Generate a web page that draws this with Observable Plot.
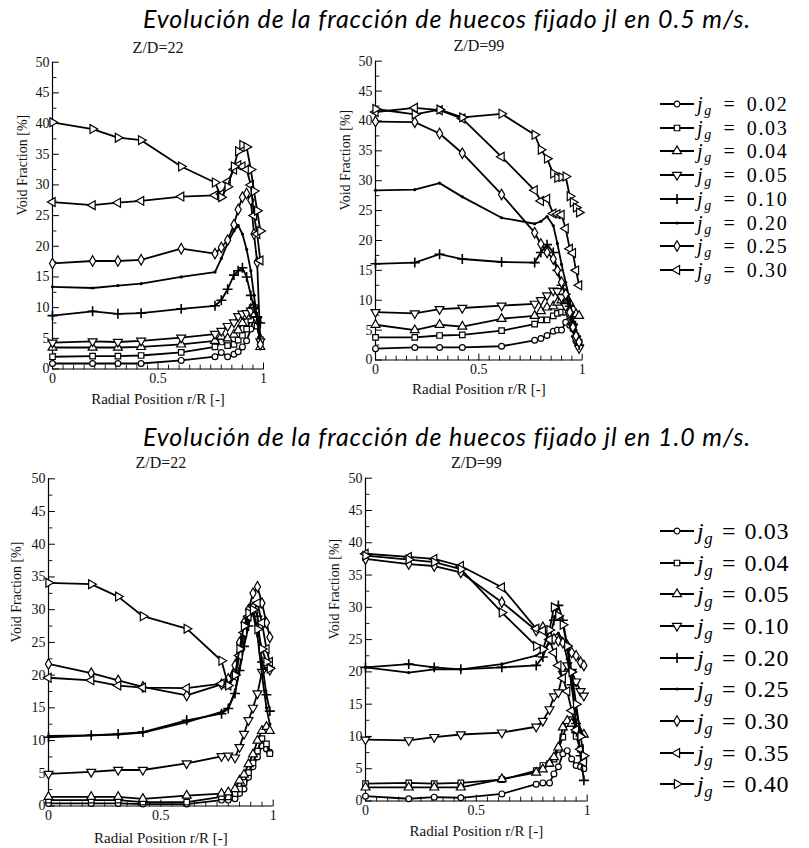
<!DOCTYPE html>
<html><head><meta charset="utf-8">
<script src="https://cdn.jsdelivr.net/npm/d3@7"></script>
<script src="https://cdn.jsdelivr.net/npm/@observablehq/plot@0.6"></script>
<style>
body{margin:0;background:#fff;}
#root{position:relative;width:809px;height:848px;overflow:hidden;background:#fff;}
.title{position:absolute;left:143px;text-align:left;font-family:Lato,"Open Sans",sans-serif;font-style:italic;font-size:25px;letter-spacing:0.9px;line-height:1.2;color:#000;white-space:nowrap;}
.panel{position:absolute;}
.row{position:absolute;left:0;display:flex;align-items:center;white-space:nowrap;font-family:"Liberation Serif","Times New Roman",Times,"DejaVu Serif",serif;line-height:1;color:#000;}
.row svg{margin-right:2px;flex:none;}
.row sub{font-size:0.7em;vertical-align:-0.3em;font-style:italic;line-height:0;}
.small{font-size:20px;height:20px;letter-spacing:1.6px;word-spacing:4px;}
.big{font-size:24px;height:24px;letter-spacing:0.6px;word-spacing:2px;}
</style></head><body><div id="root"></div>
<script>
// ---------- DATA ----------
const titleTop = "Evolución de la fracción de huecos fijado jl en 0.5 m/s.";
const titleBottom = "Evolución de la fracción de huecos fijado jl en 1.0 m/s.";
const xLabel = "Radial Position r/R [-]";
const yLabel = "Void Fraction [%]";
const yMajorTicks = [0, 5, 10, 15, 20, 25, 30, 35, 40, 45, 50];
const yMinorTicks = [2.5, 7.5, 12.5, 17.5, 22.5, 27.5, 32.5, 37.5, 42.5, 47.5];
const xMajorTicks = [0, 0.5, 1];
const xMinorTicks = [0.05,0.1,0.15,0.2,0.25,0.3,0.35,0.4,0.45,0.55,0.6,0.65,0.7,0.75,0.8,0.85,0.9,0.95];
const legendTop = ["0.02", "0.03", "0.04", "0.05", "0.10", "0.20", "0.25", "0.30"];
const legendBottom = ["0.03", "0.04", "0.05", "0.10", "0.20", "0.25", "0.30", "0.35", "0.40"];
const markerKinds = ["circle", "square", "triUp", "triDown", "plus", "dot", "diamond", "triLeft", "triRight"];

// jl = 0.5 m/s, Z/D = 22
const xTL = [0, 0.19, 0.31, 0.42, 0.61, 0.77, 0.80, 0.83, 0.86, 0.88, 0.90, 0.92, 0.94, 0.955, 0.97, 0.985];
const tlCircle  = [0.9, 0.9, 0.9, 0.9, 1.4, 2.0, 2.7, 2.0, 2.4, 2.8, 3.6, 4.6, 6.5, 8.5, 7.0, 4.5];
const tlSquare  = [2.0, 2.1, 2.1, 2.2, 2.7, 3.6, 4.4, 3.8, 4.0, 4.7, 5.5, 6.5, 8.0, 8.8, 7.0, 4.8];
const tlTriUp   = [3.5, 3.5, 3.5, 3.6, 4.0, 4.6, 5.3, 5.0, 5.6, 6.3, 7.5, 8.6, 9.8, 10.2, 8.0, 3.6];
const tlTriDown = [4.3, 4.5, 4.4, 4.6, 5.1, 5.7, 6.2, 7.0, 7.6, 8.6, 9.0, 9.1, 9.5, 10.0, 8.0, 4.5];
const tlPlus    = [8.7, 9.4, 9.0, 9.1, 9.8, 10.3, 11.2, 13.0, 15.3, 16.0, 16.5, 15.0, 12.0, 10.0, 8.5, 7.5];
const tlDot     = [13.4, 13.2, 13.6, 13.9, 15.0, 15.8, 18.0, 20.5, 22.5, 23.4, 22.0, 19.5, 16.0, 12.0, 8.0, 5.5];
const tlDiamond = [17.2, 17.6, 17.6, 17.8, 19.6, 18.8, 19.8, 21.0, 23.5, 26.0, 28.0, 28.6, 27.5, 22.0, 17.4, 4.0];
const tlTriLeft = [27.2, 26.7, 27.1, 27.4, 28.1, 28.3, 28.5, 30.5, 32.5, 33.2, 33.0, 32.5, 30.0, 25.0, 22.0, 17.7];
const tlTriRight= [40.2, 39.1, 37.7, 37.3, 33.0, 30.4, 28.0, 29.7, 33.0, 35.5, 36.5, 36.2, 32.5, 29.0, 25.8, 22.5];

// jl = 0.5 m/s, Z/D = 99
const xTR = [0, 0.19, 0.31, 0.42, 0.61, 0.77, 0.80, 0.83, 0.86, 0.88, 0.90, 0.92, 0.94, 0.955, 0.97, 0.985];
const trCircle  = [1.9, 2.1, 2.1, 2.1, 2.3, 3.3, 3.6, 4.1, 4.8, 5.0, 5.0, 6.3, 5.8, 5.2, 3.2, 2.2];
const trSquare  = [3.8, 3.8, 4.1, 4.2, 4.9, 6.0, 6.7, 6.7, 7.4, 7.8, 8.0, 8.0, 7.4, 6.0, 4.0, 3.0];
const trTriUp   = [5.9, 5.0, 5.9, 5.6, 6.9, 7.4, 8.2, 8.8, 9.0, 9.6, 10.0, 10.5, 9.5, 8.5, 7.7, 7.4];
const trTriDown = [8.0, 7.8, 8.5, 8.7, 9.1, 9.4, 10.0, 10.8, 11.6, 11.5, 10.5, 9.0, 7.5, 5.5, 3.5, 2.0];
const trPlus    = [16.1, 16.3, 17.7, 16.9, 16.4, 16.3, 18.0, 19.3, 18.0, 15.0, 12.5, 11.0, 9.0, 6.0, 4.0, 2.5];
const trDot     = [28.4, 28.5, 29.6, 27.3, 23.8, 22.8, 23.2, 24.0, 22.5, 19.5, 16.0, 13.0, 10.0, 7.0, 5.0, 3.5];
const trDiamond = [39.9, 39.8, 37.9, 34.6, 27.7, 21.3, 19.4, 18.0, 16.9, 15.0, 13.0, 11.0, 8.0, 5.5, 4.0, 3.0];
const trTriLeft = [41.5, 42.2, 41.8, 40.4, 34.0, 28.4, 26.6, 27.0, 24.5, 24.4, 24.3, 22.0, 18.6, 17.9, 15.0, 12.5];
const trTriRight= [42.0, 41.1, 41.9, 40.6, 41.2, 37.7, 35.2, 33.7, 31.2, 30.5, 30.6, 30.7, 27.4, 26.4, 25.5, 24.7];

// jl = 1.0 m/s, Z/D = 22
const xBL = [0, 0.19, 0.31, 0.42, 0.615, 0.77, 0.80, 0.83, 0.85, 0.87, 0.89, 0.91, 0.93, 0.95, 0.97, 0.985];
const blCircle  = [0.4, 0.4, 0.4, 0.3, 0.3, 0.9, 0.9, 1.1, 1.9, 2.6, 4.4, 6.0, 7.5, 9.2, 8.7, 8.2];
const blSquare  = [0.9, 0.9, 0.9, 0.6, 0.6, 1.4, 1.4, 1.9, 2.6, 3.6, 5.1, 6.6, 8.4, 10.3, 9.5, 8.0];
const blTriUp   = [1.4, 1.4, 1.4, 1.1, 1.6, 1.9, 2.1, 2.6, 3.9, 4.8, 6.4, 7.9, 10.0, 11.5, 12.1, 11.5];
const blTriDown = [4.9, 5.2, 5.5, 5.5, 6.5, 7.6, 7.7, 7.4, 9.0, 11.0, 13.1, 15.0, 17.2, 20.5, 21.5, 20.8];
const blPlus    = [10.5, 10.8, 11.0, 11.3, 13.1, 14.1, 14.9, 17.2, 20.7, 24.4, 27.5, 30.5, 29.0, 22.0, 17.0, 14.5];
const blDot     = [10.7, 10.8, 10.9, 11.2, 12.8, 14.4, 15.0, 17.5, 21.0, 25.0, 28.5, 29.5, 26.0, 20.0, 15.0, 12.5];
const blDiamond = [21.7, 20.3, 19.2, 18.2, 16.9, 18.6, 19.4, 21.5, 25.0, 28.0, 30.0, 32.5, 33.5, 31.0, 28.0, 25.8];
const blTriLeft = [19.6, 19.2, 18.4, 18.1, 18.0, 18.7, 18.4, 19.8, 23.0, 26.5, 29.0, 30.5, 31.0, 28.0, 24.0, 22.0];
const blTriRight= [34.1, 33.9, 32.0, 29.0, 27.1, 22.2, 18.4, 20.0, 24.0, 27.5, 29.5, 30.0, 27.0, 24.0, 22.0, 21.0];

// jl = 1.0 m/s, Z/D = 99
const xBR = [0, 0.195, 0.31, 0.43, 0.615, 0.77, 0.80, 0.83, 0.85, 0.87, 0.89, 0.91, 0.93, 0.95, 0.97, 0.985];
const brCircle  = [0.75, 0.35, 0.6, 0.5, 1.1, 2.6, 2.8, 2.8, 4.2, 5.3, 7.3, 7.8, 6.5, 5.5, 5.3, 5.0];
const brSquare  = [2.7, 2.8, 2.7, 2.8, 3.3, 4.7, 5.5, 5.8, 6.5, 8.0, 9.9, 12.0, 12.6, 10.0, 8.0, 6.5];
const brTriUp   = [2.1, 2.1, 2.1, 2.1, 3.4, 4.4, 4.9, 5.8, 6.8, 8.3, 11.4, 12.4, 12.0, 11.0, 10.5, 10.3];
const brTriDown = [9.5, 9.4, 9.9, 10.3, 10.6, 11.5, 12.4, 14.2, 16.2, 16.8, 19.7, 21.0, 20.0, 18.5, 17.0, 16.3];
const brPlus    = [20.7, 21.2, 20.7, 20.4, 20.7, 21.0, 22.3, 25.0, 28.0, 30.3, 28.0, 24.0, 18.0, 12.0, 7.0, 3.2];
const brDot     = [20.7, 19.9, 20.4, 20.4, 21.2, 22.5, 23.3, 24.5, 25.5, 26.0, 25.0, 22.0, 18.0, 14.0, 11.0, 10.0];
const brDiamond = [37.5, 36.7, 36.4, 35.4, 30.8, 26.4, 26.9, 25.5, 25.1, 24.8, 24.5, 24.1, 23.0, 22.5, 21.5, 21.0];
const brTriLeft = [38.3, 37.8, 37.5, 36.4, 33.1, 26.7, 26.4, 25.0, 23.0, 21.0, 19.0, 17.0, 14.0, 11.0, 8.0, 6.0];
const brTriRight= [38.0, 37.4, 37.0, 35.9, 29.2, 24.0, 23.5, 26.5, 30.0, 28.7, 27.3, 24.0, 20.0, 15.0, 10.0, 7.0];

// ---------- SYMBOLS ----------
function tri(angleDeg) {
  const a0 = angleDeg * Math.PI / 180;
  return {draw(ctx, size) {
    const r = 2 * Math.sqrt(size / (3 * Math.sqrt(3)));
    for (let k = 0; k < 3; k++) {
      const a = a0 + k * 2 * Math.PI / 3;
      const px = r * Math.sin(a), py = -r * Math.cos(a);
      if (k) ctx.lineTo(px, py); else ctx.moveTo(px, py);
    }
    ctx.closePath();
  }};
}
const markerStyle = {
  circle:   {symbol: d3.symbolCircle, r: 2.9, fill: "white", stroke: "black", strokeWidth: 1.2},
  square:   {symbol: d3.symbolSquare, r: 3.1, fill: "white", stroke: "black", strokeWidth: 1.2},
  triUp:    {symbol: tri(0), r: 3.3, fill: "white", stroke: "black", strokeWidth: 1.2},
  triDown:  {symbol: tri(180), r: 3.3, fill: "white", stroke: "black", strokeWidth: 1.2},
  plus:     {symbol: d3.symbolPlus, r: 3.3, fill: "none", stroke: "black", strokeWidth: 1.6},
  dot:      {symbol: d3.symbolCircle, r: 1.6, fill: "black", stroke: "none", strokeWidth: 0},
  diamond:  {symbol: d3.symbolDiamond, r: 3.2, fill: "white", stroke: "black", strokeWidth: 1.2},
  triLeft:  {symbol: tri(-90), r: 3.3, fill: "white", stroke: "black", strokeWidth: 1.2},
  triRight: {symbol: tri(90), r: 3.3, fill: "white", stroke: "black", strokeWidth: 1.2}
};

// ---------- PANELS ----------
const panels = [
  {title: "Z/D=22", x: xTL, series: [tlCircle, tlSquare, tlTriUp, tlTriDown, tlPlus, tlDot, tlDiamond, tlTriLeft, tlTriRight],
   left: 0, top: 40, width: 280, height: 380, mL: 52, mR: 17, mT: 21.7, mB: 51.5, tDy: -9.7, xDy: 34.5, yOff: 29.5},
  {title: "Z/D=99", x: xTR, series: [trCircle, trSquare, trTriUp, trTriDown, trPlus, trDot, trDiamond, trTriLeft, trTriRight],
   left: 330, top: 40, width: 280, height: 380, mL: 45, mR: 28.3, mT: 20.7, mB: 60.5, tDy: -10.7, xDy: 33.5, yOff: 29.7},
  {title: "Z/D=22", x: xBL, series: [blCircle, blSquare, blTriUp, blTriDown, blPlus, blDot, blDiamond, blTriLeft, blTriRight],
   left: 0, top: 460, width: 290, height: 388, mL: 48, mR: 17.3, mT: 18.3, mB: 42.5, tDy: -10.8, xDy: 36.5, yOff: 32},
  {title: "Z/D=99", x: xBR, series: [brCircle, brSquare, brTriUp, brTriDown, brPlus, brDot, brDiamond, brTriLeft, brTriRight],
   left: 330, top: 460, width: 280, height: 388, mL: 35, mR: 23.3, mT: 17.7, mB: 47.5, tDy: -10.2, xDy: 34.5, yOff: 31}
];

const tickShapeUp = {draw(ctx, l) { ctx.moveTo(0, 0); ctx.lineTo(0, -l); }};
const serifStack = "'Liberation Serif', 'Times New Roman', Times, 'DejaVu Serif', serif";

const root = document.getElementById("root");

function addTitle(text, top) {
  const d = document.createElement("div");
  d.className = "title";
  d.style.top = top + "px";
  d.textContent = text;
  root.appendChild(d);
}
addTitle(titleTop, 3);
addTitle(titleBottom, 421);

for (const p of panels) {
  const marks = [
    Plot.ruleY([0], {stroke: "black", strokeWidth: 1.2}),
    Plot.ruleX([0], {stroke: "black", strokeWidth: 1.2}),
    Plot.vector(yMajorTicks, {x: () => 0, y: d => d, length: 6, rotate: 90, anchor: "start", shape: tickShapeUp, stroke: "black", strokeWidth: 1}),
    Plot.vector(yMinorTicks, {x: () => 0, y: d => d, length: 3.5, rotate: 90, anchor: "start", shape: tickShapeUp, stroke: "black", strokeWidth: 0.9}),
    Plot.vector(xMajorTicks, {x: d => d, y: () => 0, length: 6, rotate: 0, anchor: "start", shape: tickShapeUp, stroke: "black", strokeWidth: 1}),
    Plot.vector(xMinorTicks, {x: d => d, y: () => 0, length: 4, rotate: 0, anchor: "start", shape: tickShapeUp, stroke: "black", strokeWidth: 0.9}),
    Plot.axisY(yMajorTicks, {tickSize: 0, tickPadding: 3, fontSize: 14, label: null, fill: "#111"}),
    Plot.axisX(xMajorTicks, {tickSize: 0, tickPadding: 4, fontSize: 14, label: null, fill: "#111", tickFormat: d => String(d)}),
    Plot.text([p.title], {text: d => d, frameAnchor: "top", lineAnchor: "bottom", dy: p.tDy, fontSize: 16, fill: "#111"}),
    Plot.text([xLabel], {text: d => d, frameAnchor: "bottom", lineAnchor: "bottom", dy: p.xDy, fontSize: 15, fill: "#111"}),
    Plot.text([yLabel], {text: d => d, frameAnchor: "left", rotate: -90, dx: -p.yOff, fontSize: 14, fill: "#111"})
  ];
  p.series.forEach((vals, k) => {
    const pts = vals.map((v, i) => ({x: p.x[i], y: v}));
    const st = markerStyle[markerKinds[k]];
    marks.push(Plot.line(pts, {x: "x", y: "y", stroke: "black", strokeWidth: 1.8, strokeLinejoin: "round"}));
    marks.push(Plot.dot(pts, {x: "x", y: "y", symbol: st.symbol, r: st.r, fill: st.fill, stroke: st.stroke, strokeWidth: st.strokeWidth}));
  });
  const svg = Plot.plot({
    width: p.width, height: p.height,
    marginLeft: p.mL, marginRight: p.mR, marginTop: p.mT, marginBottom: p.mB,
    x: {domain: [0, 1]},
    y: {domain: [0, 50]},
    style: {fontFamily: serifStack, fontSize: "14px", background: "transparent", overflow: "visible", color: "black"},
    marks
  });
  const wrap = document.createElement("div");
  wrap.className = "panel";
  wrap.style.left = p.left + "px";
  wrap.style.top = p.top + "px";
  wrap.appendChild(svg);
  root.appendChild(wrap);
}

// ---------- LEGENDS ----------
function addLegend(labels, y0, step, cls) {
  const half = cls === "small" ? 10 : 12;
  labels.forEach((lab, i) => {
    const row = document.createElement("div");
    row.className = "row " + cls;
    row.style.left = "659px";
    row.style.top = (y0 + i * step - half) + "px";
    const st = markerStyle[markerKinds[i]];
    const s = d3.create("svg").attr("width", 36).attr("height", 16);
    s.append("line").attr("x1", 1).attr("x2", 35).attr("y1", 8).attr("y2", 8).attr("stroke", "black").attr("stroke-width", 2.2);
    s.append("path").attr("transform", "translate(18,8)")
      .attr("d", d3.symbol().type(st.symbol).size(st.r * st.r * Math.PI)())
      .attr("fill", st.fill).attr("stroke", st.stroke).attr("stroke-width", st.strokeWidth);
    row.appendChild(s.node());
    const span = document.createElement("span");
    span.innerHTML = "<i>j</i><sub>g</sub> = " + lab;
    row.appendChild(span);
    root.appendChild(row);
  });
}
addLegend(legendTop, 104, 23.7, "small");
addLegend(legendBottom, 531, 31.65, "big");
</script></body></html>
